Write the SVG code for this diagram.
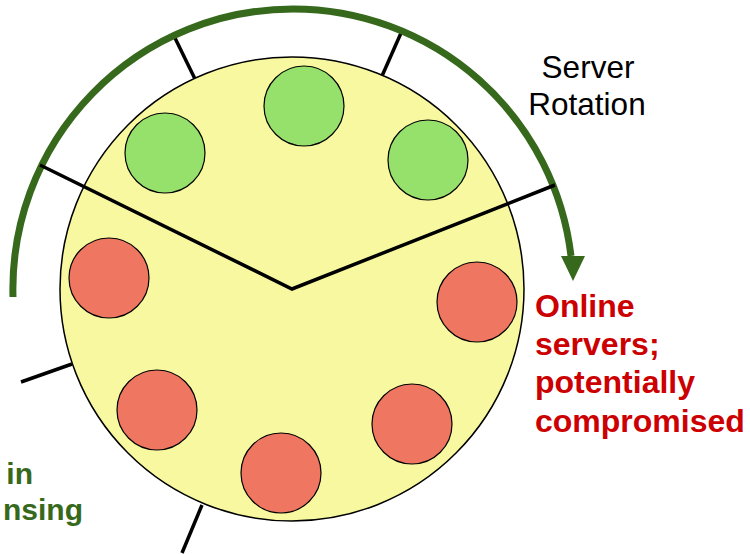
<svg xmlns="http://www.w3.org/2000/svg" width="750" height="554" viewBox="0 0 750 554">
<style>
.tick{stroke:#000;stroke-width:3.5;fill:none;stroke-linecap:butt}
.srv{stroke:#000;stroke-width:1.2}
.on{fill:#96e06c}
.off{fill:#ef7660}
.lbl{font-family:"Liberation Sans",Arial,sans-serif}
</style>
<rect width="750" height="554" fill="#fff"/>
<g id="connectors">
<path class="tick" d="M175 38 L195 79"/>
<path class="tick" d="M401 33 L382 76"/>
<path class="tick" d="M21 382 L72 364"/>
<path class="tick" d="M202 505 L182 553"/>
</g>
<g id="rotation-arc">
<path d="M13 297 A280 280 0 0 1 293 9 A280 280 0 0 1 571 256" fill="none" stroke="#37691d" stroke-width="7"/>
<polygon points="561,256 585,256 573,281" fill="#37691d"/>
</g>
<g id="pool">
<circle cx="292" cy="289" r="232" fill="#f8f8a0" stroke="#000" stroke-width="1.5"/>
<polyline points="40,165 292,289 555,185" fill="none" stroke="#000" stroke-width="3.5"/>
</g>
<g id="server-top"><circle class="srv on" cx="304" cy="106" r="40"/></g>
<g id="server-topleft"><circle class="srv on" cx="165" cy="153" r="40"/></g>
<g id="server-topright"><circle class="srv on" cx="428" cy="160" r="40"/></g>
<g id="server-left"><circle class="srv off" cx="109" cy="278" r="40"/></g>
<g id="server-right"><circle class="srv off" cx="477" cy="302" r="40"/></g>
<g id="server-bottomleft"><circle class="srv off" cx="157" cy="410" r="40"/></g>
<g id="server-bottom"><circle class="srv off" cx="281" cy="473" r="40"/></g>
<g id="server-bottomright"><circle class="srv off" cx="412" cy="424" r="40"/></g>
<g id="label-rotation" class="lbl" font-size="31.5" fill="#000" text-anchor="middle">
<text x="588" y="78">Server</text>
<text x="587" y="115">Rotation</text>
</g>
<g id="label-online" class="lbl" font-size="32" font-weight="bold" fill="#cc0000">
<text x="535" y="317">Online</text>
<text x="535" y="355">servers;</text>
<text x="535" y="393">potentially</text>
<text x="535" y="432">compromised</text>
</g>
<g id="label-offline" class="lbl" font-size="30" font-weight="bold" fill="#37691d" text-anchor="end">
<text x="33" y="484">in</text>
<text x="83" y="520">nsing</text>
</g>
</svg>
